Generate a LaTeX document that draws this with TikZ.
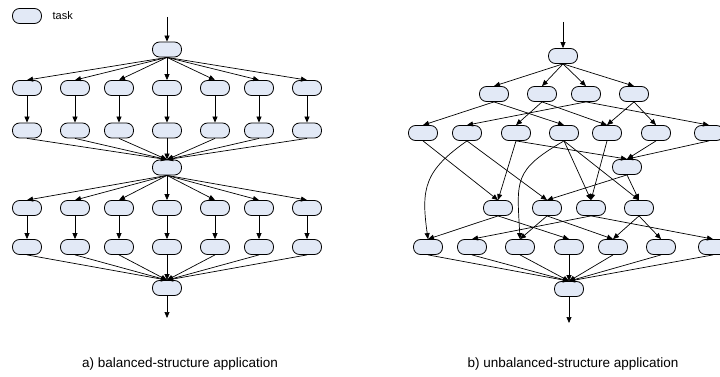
\documentclass[tikz,border=0pt]{standalone}
\usepackage{fontspec}
\setmainfont{Liberation Sans}
\usepackage{tikz}
\usetikzlibrary{arrows.meta}
\definecolor{taskfill}{RGB}{226,233,246}

\begin{document}
\begin{tikzpicture}[x=1pt, y=1pt, line width=0.7pt, >={Triangle[length=6pt,width=5pt]},
  task/.style = {draw, line width=0.8pt, rounded corners=7pt, fill=taskfill, minimum width=29pt, minimum height=15pt, inner sep=0pt}]
\useasboundingbox (0,0) rectangle (720,-377);
\node[task] (0) at (27,-16) {};
\node[right, font=\fontsize{11}{13}\selectfont] (key) at (49,-16) {task};
\node[task] (1) at (167,-49.5) {};
\node[task] (2) at (27,-88) {};
\node[task] (3) at (75,-88) {};
\node[task] (4) at (119,-88) {};
\node[task] (5) at (167,-88) {};
\node[task] (6) at (215,-88) {};
\node[task] (7) at (259,-88) {};
\node[task] (8) at (307,-88) {};
\node[task] (9) at (27,-130.5) {};
\node[task] (10) at (75,-130.5) {};
\node[task] (11) at (119,-130.5) {};
\node[task] (12) at (167,-130.5) {};
\node[task] (13) at (215,-130.5) {};
\node[task] (14) at (259,-130.5) {};
\node[task] (15) at (307,-130.5) {};
\node[task] (16) at (167,-167.5) {};
\node[task] (17) at (27,-208) {};
\node[task] (18) at (75,-208) {};
\node[task] (19) at (119,-208) {};
\node[task] (20) at (167,-208) {};
\node[task] (21) at (215,-208) {};
\node[task] (22) at (259,-208) {};
\node[task] (23) at (307,-208) {};
\node[task] (24) at (27,-247) {};
\node[task] (25) at (75,-247) {};
\node[task] (26) at (119,-247) {};
\node[task] (27) at (167,-247) {};
\node[task] (28) at (215,-247) {};
\node[task] (29) at (259,-247) {};
\node[task] (30) at (307,-247) {};
\node[task] (31) at (167,-288) {};
\coordinate (in1) at (167,-17);
\coordinate (out1) at (167,-318);
\node[font=\fontsize{13.5}{16}\selectfont] (cap1) at (180,-364) {a) balanced-structure application};
\draw[->] (in1) -- (1);
\draw[->] (1.south) -- (2.north);
\draw[->] (1.south) -- (3.north);
\draw[->] (1.south) -- (4.north);
\draw[->] (1.south) -- (5.north);
\draw[->] (1.south) -- (6.north);
\draw[->] (1.south) -- (7.north);
\draw[->] (1.south) -- (8.north);
\draw[->] (2) -- (9);
\draw[->] (3) -- (10);
\draw[->] (4) -- (11);
\draw[->] (5) -- (12);
\draw[->] (6) -- (13);
\draw[->] (7) -- (14);
\draw[->] (8) -- (15);
\draw[->] (9.south) -- (16.north);
\draw[->] (10.south) -- (16.north);
\draw[->] (11.south) -- (16.north);
\draw[->] (12.south) -- (16.north);
\draw[->] (13.south) -- (16.north);
\draw[->] (14.south) -- (16.north);
\draw[->] (15.south) -- (16.north);
\draw[->] (16.south) -- (17.north);
\draw[->] (16.south) -- (18.north);
\draw[->] (16.south) -- (19.north);
\draw[->] (16.south) -- (20.north);
\draw[->] (16.south) -- (21.north);
\draw[->] (16.south) -- (22.north);
\draw[->] (16.south) -- (23.north);
\draw[->] (17) -- (24);
\draw[->] (18) -- (25);
\draw[->] (19) -- (26);
\draw[->] (20) -- (27);
\draw[->] (21) -- (28);
\draw[->] (22) -- (29);
\draw[->] (23) -- (30);
\draw[->] (24.south) -- (31.north);
\draw[->] (25.south) -- (31.north);
\draw[->] (26.south) -- (31.north);
\draw[->] (27.south) -- (31.north);
\draw[->] (28.south) -- (31.north);
\draw[->] (29.south) -- (31.north);
\draw[->] (30.south) -- (31.north);
\draw[->] (31) -- (out1);
\node[task] (32) at (563,-56) {};
\node[task] (33) at (494,-94) {};
\node[task] (34) at (542,-94) {};
\node[task] (35) at (586,-94) {};
\node[task] (36) at (634,-94) {};
\node[task] (37) at (423,-133) {};
\node[task] (38) at (467,-133) {};
\node[task] (39) at (516,-133) {};
\node[task] (40) at (564,-133) {};
\node[task] (41) at (607,-133) {};
\node[task] (42) at (656,-133) {};
\node[task] (43) at (709,-133) {};
\node[task] (44) at (627,-167) {};
\node[task] (45) at (498,-208) {};
\node[task] (46) at (547,-208) {};
\node[task] (47) at (591,-208) {};
\node[task] (48) at (639,-208) {};
\node[task] (49) at (428,-247) {};
\node[task] (50) at (472,-247) {};
\node[task] (51) at (520,-247) {};
\node[task] (52) at (569,-247) {};
\node[task] (53) at (613,-247) {};
\node[task] (54) at (661,-247) {};
\node[task] (55) at (713,-247) {};
\node[task] (56) at (569,-289) {};
\coordinate (in2) at (563,-22);
\coordinate (out2) at (569,-323);
\node[font=\fontsize{13.5}{16}\selectfont] (cap2) at (573,-364) {b) unbalanced-structure application};
\draw[->] (in2) -- (32);
\draw[->] (32.south) -- (33.north);
\draw[->] (32.south) -- (34.north);
\draw[->] (32.south) -- (35.north);
\draw[->] (32.south) -- (36.north);
\draw[->] (33.south) -- (37.north);
\draw[->] (33.south) -- (40.north);
\draw[->] (34.south) -- (39.north);
\draw[->] (34.south) -- (41.north);
\draw[->] (35.south) -- (38.north);
\draw[->] (35.south) -- (43.north);
\draw[->] (36.south) -- (41.north);
\draw[->] (36.south) -- (42.north);
\draw[->] (37.south) -- (45.north);
\draw[->] (38.south) to[out=-145, in=98, looseness=1.25] (49.north);
\draw[->] (38.south) -- (46.north);
\draw[->] (39.south) -- (45.north);
\draw[->] (39.south) -- (44.north);
\draw[->] (40.south) to[out=-150, in=93, looseness=1.4] (51.north);
\draw[->] (40.south) -- (47.north);
\draw[->] (40.south) -- (48.north);
\draw[->] (41.south) -- (47.north);
\draw[->] (42.south) -- (44.north);
\draw[->] (43.south) -- (44.north);
\draw[->] (44.south) -- (46.north);
\draw[->] (44.south) -- (48.north);
\draw[->] (45.south) -- (49.north);
\draw[->] (45.south) -- (52.north);
\draw[->] (46.south) -- (51.north);
\draw[->] (46.south) -- (53.north);
\draw[->] (47.south) -- (50.north);
\draw[->] (47.south) -- (55.north);
\draw[->] (48.south) -- (53.north);
\draw[->] (48.south) -- (54.north);
\draw[->] (49.south) -- (56.north);
\draw[->] (50.south) -- (56.north);
\draw[->] (51.south) -- (56.north);
\draw[->] (52.south) -- (56.north);
\draw[->] (53.south) -- (56.north);
\draw[->] (54.south) -- (56.north);
\draw[->] (55.south) -- (56.north);
\draw[->] (56) -- (out2);
\end{tikzpicture}
\end{document}
